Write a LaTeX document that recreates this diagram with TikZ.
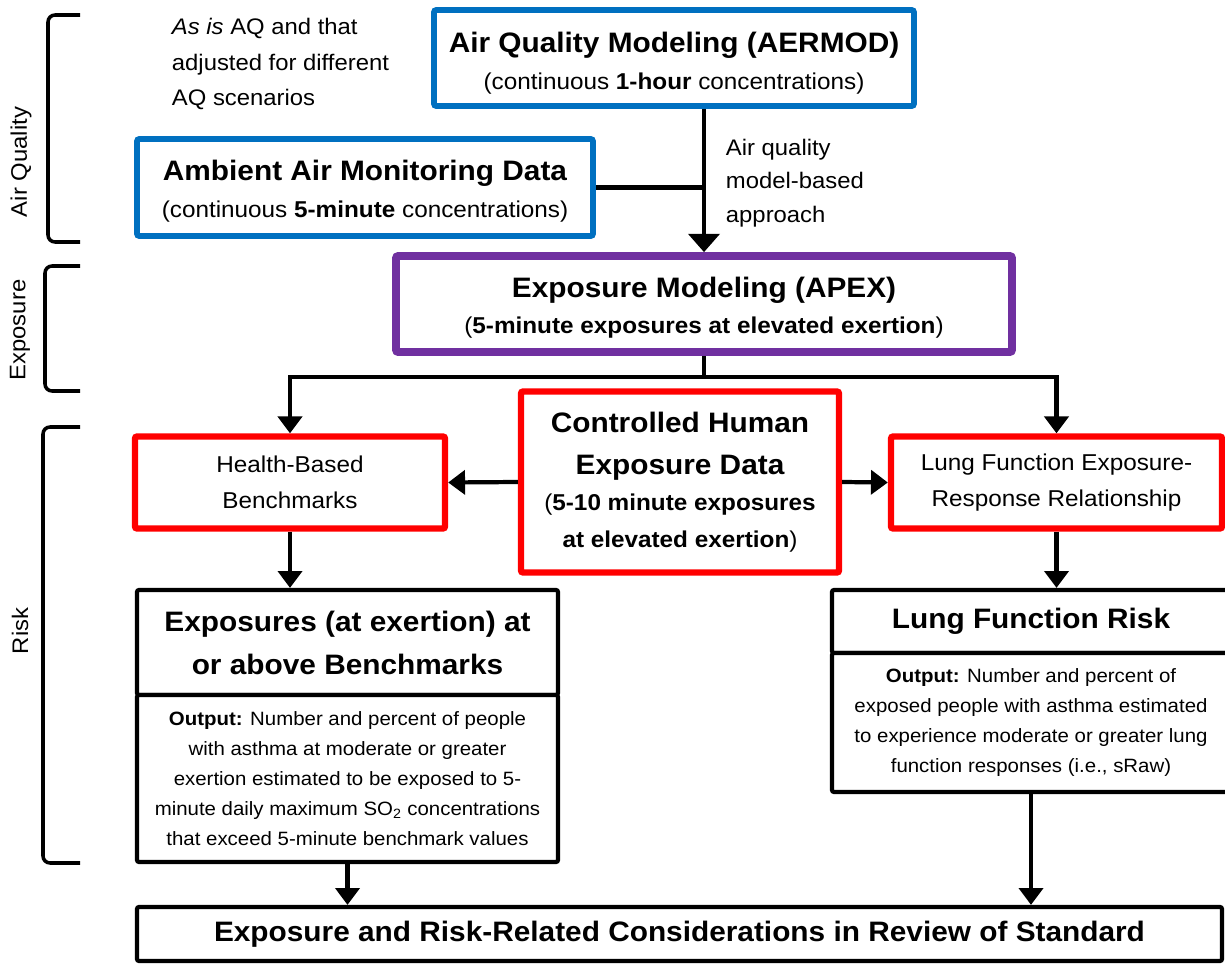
\documentclass[tikz,border=0pt]{standalone}
\usepackage{fontspec}
\setmainfont[FakeStretch=1.06]{Liberation Sans}
\usetikzlibrary{arrows.meta}

\definecolor{aqblue}{RGB}{0,112,192}
\definecolor{apexpurple}{RGB}{112,48,160}
\newcommand{\pxl}{0.025cm}
\newcommand{\bigtxt}{\fontsize{20}{30.5}\selectfont\bfseries}
\newcommand{\midtxt}{\fontsize{16.3}{26}\selectfont}
\newcommand{\smalltxt}{\fontsize{13.7}{21.3}\selectfont}

\begin{document}
\begin{tikzpicture}[x=\pxl, y=-\pxl,
            box/.style={draw, fill=white, rounded corners=1.5pt, align=center, inner sep=0pt},
            bluebox/.style={box, draw=aqblue, line width=4pt},
            purplebox/.style={box, draw=apexpurple, line width=5.5pt},
            redbox/.style={box, draw=red, line width=4.5pt},
            blackbox/.style={box, draw=black, line width=3pt},
            conn/.style={line width=3pt},
            arr/.style={conn, -{Triangle[width=17pt,length=12pt]}},
            arrbig/.style={conn, -{Triangle[width=22pt,length=13pt]}},
            bracket/.style={line width=2.5pt, rounded corners=5pt},
            sidelabel/.style={font=\fontsize{16}{19}\selectfont, rotate=90}
        ]
            \useasboundingbox (0,0) rectangle (1225,966);

            % brackets on the left
            \draw[bracket] (80,15) -- (48,15) -- (48,242) -- (80,242);
            \draw[bracket] (80,266) -- (45,266) -- (45,391) -- (80,391);
            \draw[bracket] (80,427) -- (43,427) -- (43,863) -- (80,863);
            \node[sidelabel] (aqlab) at (21,162) {Air Quality};
            \node[sidelabel] (explab) at (20,330) {Exposure};
            \node[sidelabel] (risklab) at (20,631) {Risk};

            \node[align=left, anchor=west, font=\fontsize{16}{25}\selectfont] (astxt) at (167,64)
                {\textit{As is} AQ and that\\adjusted for different\\AQ scenarios};
            \node[align=left, anchor=west, font=\fontsize{16}{24}\selectfont] (aqtxt) at (721,183)
                {Air quality\\model-based\\approach};

            % air quality
            \node[bluebox, minimum width=480*\pxl, minimum height=96*\pxl, font=\midtxt] (aermod) at (674,58)
                {\rule{0pt}{22pt}{\bigtxt Air Quality Modeling (AERMOD)}\\(continuous \textbf{1-hour} concentrations)};
            \node[bluebox, minimum width=456*\pxl, minimum height=97*\pxl, font=\midtxt] (ambient) at (365,187.5)
                {\rule{0pt}{20pt}{\bigtxt Ambient Air Monitoring Data}\\(continuous \textbf{5-minute} concentrations)};

            % exposure
            \node[purplebox, minimum width=616*\pxl, minimum height=96*\pxl, font=\midtxt] (apex) at (704,304)
                {\rule{0pt}{20pt}{\bigtxt Exposure Modeling (APEX)}\\(\textbf{5-minute exposures at elevated exertion})};

            % risk
            \node[redbox, minimum width=318*\pxl, minimum height=181*\pxl, font=\midtxt] (chum) at (680,482)
                {{\bigtxt Controlled Human}\\[4pt]{\bigtxt Exposure Data}\\(\textbf{5-10 minute exposures}\\\textbf{at elevated exertion})};
            \node[redbox, minimum width=310*\pxl, minimum height=92*\pxl, font=\midtxt] (health) at (290,482.5)
                {Health-Based\\Benchmarks};
            \node[redbox, minimum width=331*\pxl, minimum height=92*\pxl, font=\midtxt] (lunger) at (1056.5,482.5)
                {Lung Function Exposure-\\Response Relationship};

            \node[blackbox, minimum width=421*\pxl, minimum height=105*\pxl, font=\bigtxt] (expo) at (347.5,642.5)
                {Exposures (at exertion) at\\or above Benchmarks};
            \node[blackbox, minimum width=421*\pxl, minimum height=167*\pxl, font=\smalltxt] (outl) at (347.5,778.5)
                {\textbf{Output:} Number and percent of people\\with asthma at moderate or greater\\exertion estimated to be exposed to 5-\\minute daily maximum SO\textsubscript{2} concentrations\\that exceed 5-minute benchmark values};
            \node[blackbox, minimum width=398*\pxl, minimum height=63*\pxl, font=\bigtxt] (lfr) at (1031,621.5)
                {Lung Function Risk};
            \node[blackbox, minimum width=398*\pxl, minimum height=139*\pxl, font=\smalltxt] (outr) at (1031,722.5)
                {\textbf{Output:} Number and percent of\\exposed people with asthma estimated\\to experience moderate or greater lung\\function responses (i.e., sRaw)};

            \node[blackbox, minimum width=1085*\pxl, minimum height=54*\pxl, font=\bigtxt] (final) at (679.5,934)
                {Exposure and Risk-Related Considerations in Review of Standard};

            % connectors
            \coordinate (split) at (704,377);
            \draw[arrbig] (aermod.south -| apex.north) -- (apex.north);
            \draw[conn] (ambient.east) -- (ambient.east -| apex.north);
            \draw[conn] (apex.south) -- (split);
            \draw[arr] (split) -| (health.north);
            \draw[arr] (split) -| (lunger.north);
            \draw[arr] (chum.west) -- (health.east);
            \draw[arr] (chum.east) -- (lunger.west);
            \draw[arr] (health.south) -- (health.south |- expo.north);
            \draw[arr] (lunger.south) -- (lunger.south |- lfr.north);
            \draw[arr] (outl.south) -- (outl.south |- final.north);
            \draw[arr] (outr.south) -- (outr.south |- final.north);
        \end{tikzpicture}
\end{document}
